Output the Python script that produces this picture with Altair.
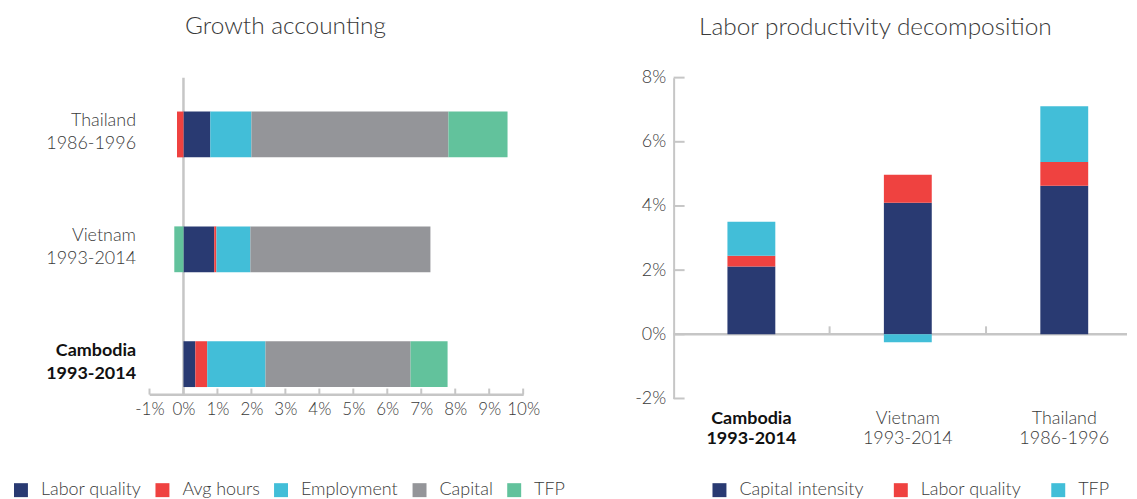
import altair as alt
import pandas as pd

FONT = "Lato"
TXT = "#3a3a3a"
BOLD_TXT = "#111111"
AX = "#c6c6c6"

# ---------------- Growth accounting (left) ----------------
ga_countries = ["Thailand 1986-1996", "Vietnam 1993-2014", "Cambodia 1993-2014"]
ga_components = ["Labor quality", "Avg hours", "Employment", "Capital", "TFP"]
ga_labor_quality = [0.79, 0.905, 0.35]
ga_avg_hours = [-0.19, 0.065, 0.35]
ga_employment = [1.21, 1.00, 1.715]
ga_capital = [5.80, 5.30, 4.27]
ga_tfp = [1.74, -0.27, 1.09]
ga_colors = ["#293a72", "#ef4240", "#42bed8", "#949599", "#62c29c"]
ga_x_ticks = list(range(-1, 11))

# ---------------- Labor productivity decomposition (right) ----------------
lp_countries = ["Cambodia 1993-2014", "Vietnam 1993-2014", "Thailand 1986-1996"]
lp_components = ["Capital intensity", "Labor quality", "TFP"]
lp_capital_intensity = [2.11, 4.10, 4.63]
lp_labor_quality = [0.34, 0.87, 0.74]
lp_tfp = [1.06, -0.25, 1.74]
lp_colors = ["#293a72", "#ef4240", "#42bed8"]
lp_y_ticks = [-2, 0, 2, 4, 6, 8]

LW, LH = 375, 318
RW, RH = 455, 322

ga_series = [ga_labor_quality, ga_avg_hours, ga_employment, ga_capital, ga_tfp]
ga_rows = []
for k, (comp, vals) in enumerate(zip(ga_components, ga_series)):
    for c, v in zip(ga_countries, vals):
        ga_rows.append({"country": c, "component": comp, "value": v, "order": k})
ga_df = pd.DataFrame(ga_rows)

lp_series = [lp_capital_intensity, lp_labor_quality, lp_tfp]
lp_rows = []
for k, (comp, vals) in enumerate(zip(lp_components, lp_series)):
    for c, v in zip(lp_countries, vals):
        lp_rows.append({"country": c, "component": comp, "value": v, "order": k})
lp_df = pd.DataFrame(lp_rows)

bold_test = "indexof(datum.value, 'Cambodia') >= 0"
label_font_weight = {"condition": {"test": bold_test, "value": "bold"}, "value": 300}
label_color = {"condition": {"test": bold_test, "value": BOLD_TXT}, "value": TXT}

# shared axis / scale definitions
lx_scale = alt.Scale(domain=[-1, 10], nice=False, zero=False)
lx_axis = alt.Axis(
    values=ga_x_ticks,
    labelExpr="datum.value + '%'",
    domain=True,
    domainColor=AX,
    domainWidth=2,
    ticks=False,
    grid=False,
    labelFlush=False,
    labelPadding=7,
    labelFontSize=17,
    labelFont=FONT,
    labelFontWeight=300,
    labelColor=TXT,
    title=None,
)
ly_scale = alt.Scale(domain=ga_countries, paddingInner=0.601, paddingOuter=0.18, align=0.82)
ly_axis = alt.Axis(
    labelExpr="split(datum.label, ' ')",
    domain=False,
    ticks=False,
    grid=False,
    labelPadding=14,
    labelFontSize=18,
    labelLineHeight=23,
    labelFont=FONT,
    labelFontWeight=label_font_weight,
    labelColor=label_color,
    labelOffset=-13,
    title=None,
)
ry_scale = alt.Scale(domain=[-2, 8], nice=False, zero=False)
ry_axis = alt.Axis(
    values=lp_y_ticks,
    labelExpr="datum.value + '%'",
    domain=True,
    domainColor=AX,
    domainWidth=2,
    ticks=False,
    grid=False,
    labelOverlap=False,
    labelFlush=False,
    labelPadding=8,
    labelFontSize=18,
    labelFont=FONT,
    labelFontWeight=300,
    labelColor=TXT,
    title=None,
)
rx_scale = alt.Scale(domain=lp_countries, paddingInner=0.694, paddingOuter=0.296, align=0.581)
rx_axis = alt.Axis(
    labelExpr="split(datum.label, ' ')",
    domain=False,
    ticks=False,
    grid=False,
    labelAngle=0,
    labelPadding=11,
    labelBaseline="top",
    labelFontSize=18,
    labelLineHeight=20.5,
    labelFont=FONT,
    labelFontWeight=label_font_weight,
    labelColor=label_color,
    title=None,
)

# ---- left chart layers ----
AXIS_SHIFT = 30.5  # pixels from the bottom bar's centre down to the axis line
zero_left = alt.Chart(pd.DataFrame({"value": [0]})).mark_rule(color=AX, strokeWidth=2.5).encode(
    x=alt.X("value:Q", scale=lx_scale, axis=lx_axis)
)
base_left = alt.Chart(
    pd.DataFrame({"value": [ga_x_ticks[0]], "value_end": [ga_x_ticks[-1]], "country": [ga_countries[-1]]})
).mark_rule(color=AX, strokeWidth=2, yOffset=AXIS_SHIFT).encode(
    x=alt.X("value:Q", scale=lx_scale, axis=lx_axis),
    x2="value_end:Q",
    y=alt.Y("country:N", scale=ly_scale, axis=ly_axis),
)
ticks_left = alt.Chart(
    pd.DataFrame({"value": ga_x_ticks, "country": [ga_countries[-1]] * len(ga_x_ticks)})
).mark_tick(
    orient="vertical", size=6, thickness=2, yOffset=AXIS_SHIFT - 3, color=AX, opacity=1
).encode(
    x=alt.X("value:Q", scale=lx_scale, axis=lx_axis),
    y=alt.Y("country:N", scale=ly_scale, axis=ly_axis),
)
bars_left = alt.Chart(ga_df).mark_bar().encode(
    x=alt.X("value:Q", stack="zero", scale=lx_scale, axis=lx_axis),
    y=alt.Y("country:N", scale=ly_scale, axis=ly_axis),
    color=alt.Color(
        "component:N",
        scale=alt.Scale(domain=ga_components, range=ga_colors),
        legend=alt.Legend(
            orient="none",
            legendX=-138,
            legendY=405,
            direction="horizontal",
            columns=5,
            title=None,
            symbolType="square",
            symbolSize=196,
            symbolStrokeWidth=0,
            symbolOpacity=1,
            labelFontSize=18,
            labelFont=FONT,
            labelFontWeight=300,
            labelColor=TXT,
            labelOffset=11,
            columnPadding=12,
            padding=0,
        ),
    ),
    order=alt.Order("order:Q"),
)

left = alt.layer(zero_left, base_left, ticks_left, bars_left).properties(
    width=LW,
    height=LH,
    view=alt.ViewBackground(strokeWidth=0, stroke="transparent"),
    title=alt.TitleParams(
        "Growth accounting",
        fontSize=24.5,
        font=FONT,
        fontWeight=300,
        color=TXT,
        anchor="middle",
        dx=-51,
        offset=18,
        baseline="alphabetic",
    ),
)

# ---- right chart layers ----
zero_right = alt.Chart(pd.DataFrame({"value": [0]})).mark_rule(color=AX, strokeWidth=2.5).encode(
    y=alt.Y("value:Q", scale=ry_scale, axis=ry_axis), x=alt.value(0), x2=alt.value(RW)
)
yticks_right = alt.Chart(pd.DataFrame({"value": lp_y_ticks})).mark_rule(color=AX, strokeWidth=2).encode(
    y=alt.Y("value:Q", scale=ry_scale, axis=ry_axis), x=alt.value(0), x2=alt.value(11)
)
xticks_right = alt.Chart(pd.DataFrame({"country": lp_countries[1:], "value": [0, 0]})).mark_tick(
    orient="vertical", size=8, thickness=2, yOffset=-4, xOffset=-78.5, color=AX, opacity=1
).encode(
    x=alt.X("country:N", scale=rx_scale, axis=rx_axis),
    y=alt.Y("value:Q", scale=ry_scale, axis=ry_axis),
)
bars_right = alt.Chart(lp_df).mark_bar().encode(
    x=alt.X("country:N", scale=rx_scale, axis=rx_axis),
    y=alt.Y("value:Q", stack="zero", scale=ry_scale, axis=ry_axis),
    color=alt.Color(
        "component:N",
        scale=alt.Scale(domain=lp_components, range=lp_colors),
        legend=alt.Legend(
            orient="none",
            legendX=37,
            legendY=405,
            direction="horizontal",
            columns=3,
            title=None,
            symbolType="square",
            symbolSize=196,
            symbolStrokeWidth=0,
            symbolOpacity=1,
            labelFontSize=18,
            labelFont=FONT,
            labelFontWeight=300,
            labelColor=TXT,
            labelOffset=11,
            columnPadding=28,
            padding=0,
        ),
    ),
    order=alt.Order("order:Q"),
)

right = alt.layer(zero_right, bars_right, yticks_right, xticks_right).properties(
    width=RW,
    height=RH,
    view=alt.ViewBackground(strokeWidth=0, stroke="transparent"),
    title=alt.TitleParams(
        "Labor productivity decomposition",
        fontSize=24.5,
        font=FONT,
        fontWeight=300,
        color=TXT,
        anchor="middle",
        dx=-25,
        offset=9,
        baseline="alphabetic",
    ),
)

chart = (
    alt.hconcat(left, right, spacing=69)
    .resolve_scale(color="independent")
    .properties(padding={"left": 4, "top": 5, "right": 0, "bottom": 0})
    .configure_view(strokeWidth=0, stroke="transparent", strokeOpacity=0)
    .configure(background="white")
)

chart.save("out.html", embed_options={"renderer": "svg", "actions": False})
